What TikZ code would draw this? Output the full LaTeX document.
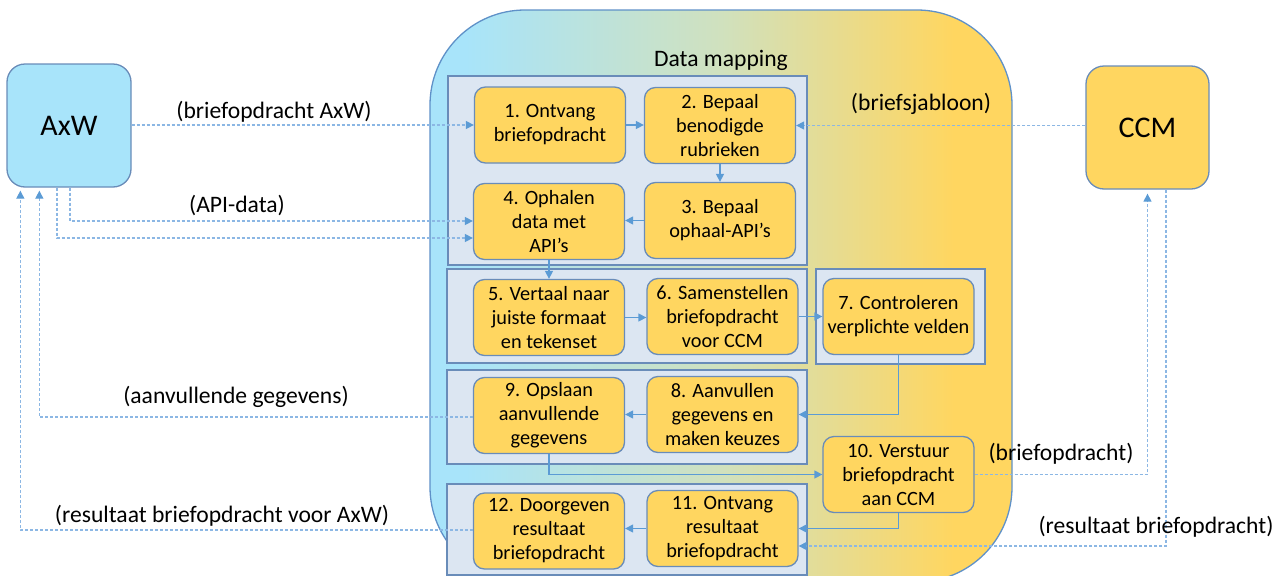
\documentclass[tikz,border=0pt]{standalone}
\usepackage{fontspec}
\setmainfont{Carlito}
\usetikzlibrary{arrows.meta,calc}
\definecolor{cyanF}{RGB}{168,228,250}
\definecolor{yelF}{RGB}{255,214,96}
\definecolor{midF}{RGB}{208,225,190}
\definecolor{edgeC}{RGB}{105,140,185}
\definecolor{bigEdge}{RGB}{95,145,200}
\definecolor{grpF}{RGB}{220,230,242}
\definecolor{lineC}{RGB}{91,155,213}
\definecolor{dashC}{RGB}{140,183,228}
\pgfdeclarehorizontalshading{dmshade}{100bp}{color(0bp)=(cyanF); color(28bp)=(cyanF); color(50bp)=(midF); color(70bp)=(yelF); color(100bp)=(yelF)}
\begin{document}
\begin{tikzpicture}[x=1pt,y=-1pt,
  stepbox/.style={draw=edgeC, line width=1.3pt, fill=yelF, rounded corners=11pt,
    minimum width=151pt, minimum height=76pt, inner sep=0pt, align=center,
    font=\fontsize{20.3}{24}\selectfont},
  sysbox/.style={draw=edgeC, line width=1.3pt, rounded corners=18pt,
    minimum width=124pt, minimum height=123pt, inner sep=0pt,
    font=\fontsize{30}{36}\selectfont},
  grp/.style={draw=edgeC, line width=1.3pt, fill=grpF, inner sep=0pt, outer sep=0pt},
  lbl/.style={font=\fontsize{23.6}{28}\selectfont, inner sep=0pt, anchor=base},
  flow/.style={draw=lineC, line width=1.3pt, -{Triangle[length=8pt,width=8pt]}},
  dlink/.style={draw=dashC, line width=1.3pt, dash pattern=on 3pt off 2pt,
    -{Triangle[length=8pt,width=8pt,color=lineC,fill=lineC]}}
]
\useasboundingbox (0,0) rectangle (1286,576);

% big container
\shadedraw[shading=dmshade, draw=bigEdge, line width=1.3pt, rounded corners=95pt]
  (430,10) rectangle (1012,582);
\node[lbl] (title) at (721,66) {Data mapping};

% groups
\node[grp, minimum width=359pt, minimum height=189pt] (g1) at (627.5,170.5) {};
\node[grp, minimum width=360pt, minimum height=94pt] (g2) at (627,316) {};
\node[grp, minimum width=169pt, minimum height=95pt] (g7) at (900.5,316.5) {};
\node[grp, minimum width=360pt, minimum height=94pt] (g3) at (627,417) {};
\node[grp, minimum width=360pt, minimum height=91pt] (g4) at (627,529.5) {};

% systems
\node[sysbox, fill=cyanF] (axw) at (69,125.5) {AxW};
\node[sysbox, fill=yelF, minimum width=123pt] (ccm) at (1147.5,127.5) {CCM};

% steps
\node[stepbox] (s1) at (550,125) {1. Ontvang\\briefopdracht};
\node[stepbox] (s2) at (720,125.5) {2. Bepaal\\benodigde\\rubrieken};
\node[stepbox] (s3) at (720,220.5) {3. Bepaal\\ophaal-API’s};
\node[stepbox] (s4) at (549,221.5) {4. Ophalen\\data met\\API’s};
\node[stepbox] (s5) at (549,317.5) {5. Vertaal naar\\juiste formaat\\en tekenset};
\node[stepbox] (s6) at (722.5,316.5) {6. Samenstellen\\briefopdracht\\voor CCM};
\node[stepbox] (s7) at (898.5,316.5) {7. Controleren\\verplichte velden};
\node[stepbox] (s8) at (722.5,414.5) {8. Aanvullen\\gegevens en\\maken keuzes};
\node[stepbox] (s9) at (549,415.5) {9. Opslaan\\aanvullende\\gegevens};
\node[stepbox] (s10) at (898.5,474.5) {10. Verstuur\\briefopdracht\\aan CCM};
\node[stepbox] (s11) at (722.5,528.5) {11. Ontvang\\resultaat\\briefopdracht};
\node[stepbox] (s12) at (549,531) {12. Doorgeven\\resultaat\\briefopdracht};

% solid flow
\draw[flow] (s1.east) -- (s1.east -| s2.west);
\draw[flow] (s2.south) -- (s3.north);
\draw[flow] (s3.west) -- (s3.west -| s4.east);
\draw[flow] (s4.south) -- (s4.south |- s5.north);
\draw[flow] (s5.east) -- (s5.east -| s6.west);
\draw[flow] (s6.east) -- (s6.east -| s7.west);
\draw[flow] (s7.south) |- (s8.east);
\draw[flow] (s8.west) -- (s8.west -| s9.east);
\draw[flow] (s9.south) |- (s10.west);
\draw[flow] (s10.south) |- (s11.east);
\draw[flow] (s11.west) -- (s11.west -| s12.east);

% dashed data links
\coordinate (a1) at ($(axw.south)+(1,0)$);
\coordinate (a2) at ($(axw.south)+(-12,0)$);
\coordinate (a3) at ($(axw.south west)+(33,0)$);
\coordinate (a4) at ($(axw.south west)+(14,0)$);
\coordinate (c1) at ($(ccm.south)+(0,0)$);
\coordinate (c2) at ($(ccm.south)+(18.5,0)$);

\draw[dlink] (axw.east |- s1.west) -- (s1.west);
\draw[dlink] (ccm.west |- s2.east) -- (s2.east);
\draw[dlink] (a1) |- ($(s4.west)+(0,-0.5)$);
\draw[dlink] (a2) |- ($(s4.west)+(0,16.5)$);
\draw[dlink, shorten >=3pt] ($(s9.west)+(0,1.5)$) -| (a3);
\draw[dlink, shorten >=3pt] ($(s12.west)+(0,-1)$) -| (a4);
\draw[dlink, shorten >=4pt] (s10.east) -| (c1);
\draw[dlink] (c2) |- ($(s11.east)+(0,17.5)$);

% labels
\node[lbl] (l1) at (274,118) {(briefopdracht AxW)};
\node[lbl] (l2) at (237,212) {(API-data)};
\node[lbl] (l3) at (921,110) {(briefsjabloon)};
\node[lbl] (l4) at (236,403) {(aanvullende gegevens)};
\node[lbl] (l5) at (222,522) {(resultaat briefopdracht voor AxW)};
\node[lbl] (l6) at (1061,460) {(briefopdracht)};
\node[lbl] (l7) at (1156,533) {(resultaat briefopdracht)};
\end{tikzpicture}
\end{document}
